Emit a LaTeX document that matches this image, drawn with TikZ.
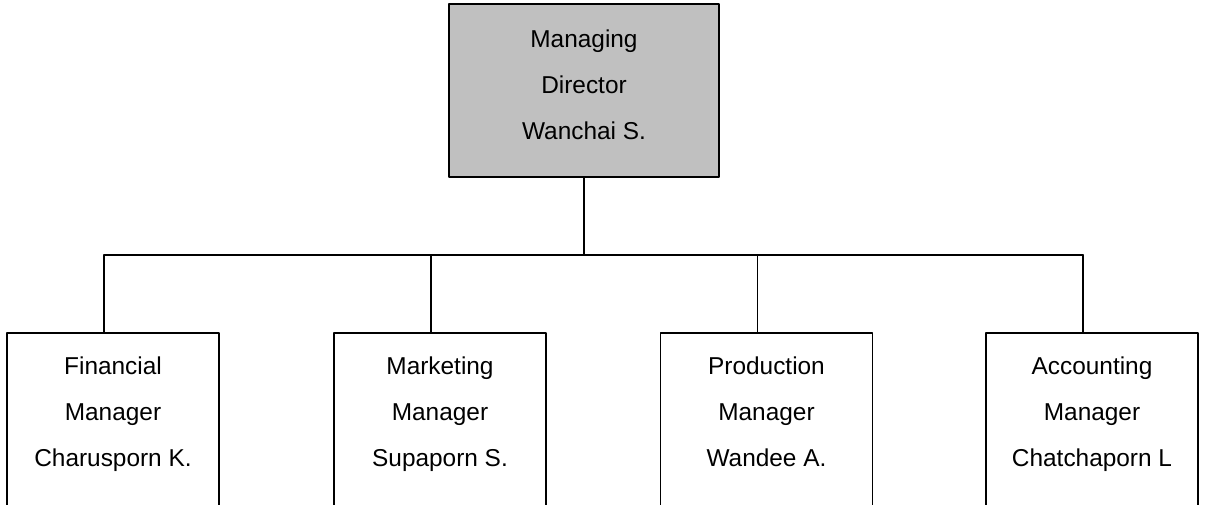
\documentclass[tikz,border=0pt]{standalone}
\usepackage{fontspec}
\setmainfont{Liberation Sans}
\usetikzlibrary{positioning}
\definecolor{bossgray}{HTML}{C0C0C0}
\begin{document}
\begin{tikzpicture}[x=0.75pt,y=-0.75pt, line join=round, line cap=round,
	font=\fontsize{18.3}{34.5}\selectfont,
	topbox/.style={draw, line width=1.4pt, fill=bossgray, minimum width=202.5pt, minimum height=129.75pt},
	mgrbox/.style={draw, line width=1.4pt, anchor=north, minimum width=159pt, minimum height=150pt},
	boxtxt/.style={align=center, inner sep=0pt, execute at begin node=\strut, execute at end node=\strut},
	link/.style={line width=1.4pt}]
	\def\busy{255} \def\boxy{332} % bus line, box tops
	\useasboundingbox (0,0) rectangle (1207,504);
	\clip (0,0) rectangle (1207,504);
	% director
	\node[topbox] (md) at (584,90.5) {};
	\node[boxtxt] (mdt) at (584,91.3) {Managing\\Director\\Wanchai S.};
	% managers
	\node[mgrbox] (fin) at (113,\boxy) {};
	\node[mgrbox] (mkt) at (440,\boxy) {};
	\node[mgrbox] (prd) at (766.5,\boxy) {};
	\node[mgrbox] (acc) at (1092,\boxy) {};
	\node[boxtxt] (fint) at (113,418.3) {Financial\\Manager\\Charusporn K.};
	\node[boxtxt] (mktt) at (440,418.3) {Marketing\\Manager\\Supaporn S.};
	\node[boxtxt] (prdt) at (766.5,418.3) {Production\\Manager\\Wandee A.};
	\node[boxtxt] (acct) at (1092,418.3) {Accounting\\Manager\\Chatchaporn L};
	% lines
	\coordinate (bus) at (584,\busy);
	\coordinate (d1) at ([xshift=-6.75pt]fin.north);
	\coordinate (d2) at ([xshift=-6.75pt]mkt.north);
	\coordinate (d3) at ([xshift=-6.75pt]prd.north);
	\coordinate (d4) at ([xshift=-6.75pt]acc.north);
	\draw[link] (md.south) -- (bus);
	\draw[link] (d1 |- bus) -- (d4 |- bus);
	\draw[link] (d1 |- bus) -- (d1);
	\draw[link] (d2 |- bus) -- (d2);
	\draw[link] (d3 |- bus) -- (d3);
	\draw[link] (d4 |- bus) -- (d4);
\end{tikzpicture}
\end{document}
